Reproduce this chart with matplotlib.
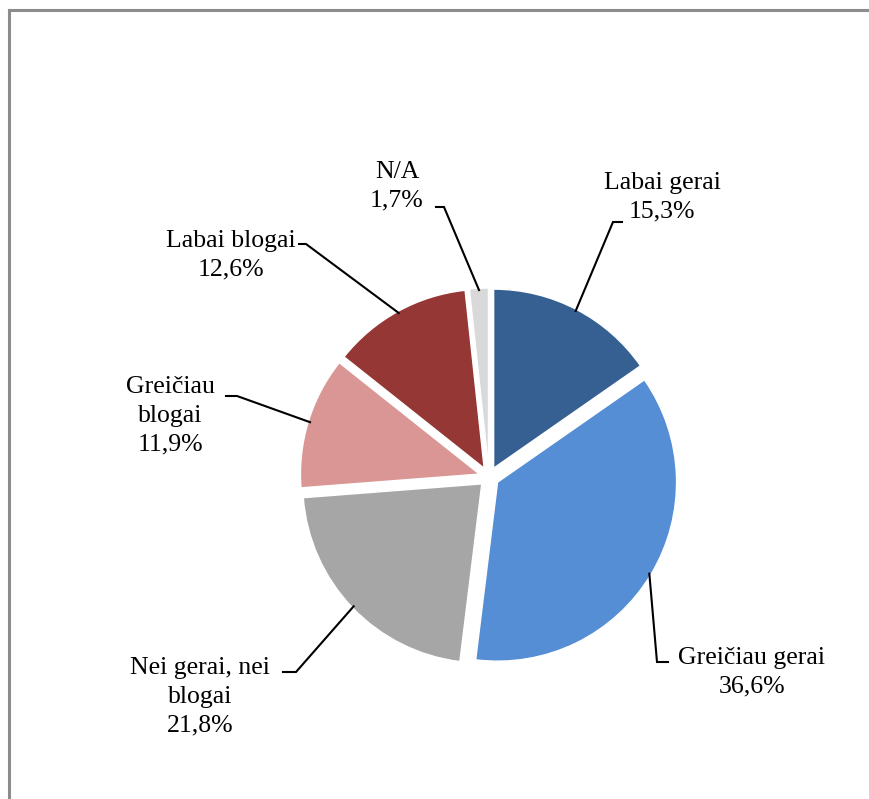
import matplotlib.pyplot as plt
import numpy as np

# duomenys
categories = ['Labai gerai', 'Greičiau gerai', 'Nei gerai, nei\nblogai',
              'Greičiau\nblogai', 'Labai blogai', 'N/A']
values = [15.3, 36.6, 21.8, 11.9, 12.6, 1.7]
pct_labels = ['15,3%', '36,6%', '21,8%', '11,9%', '12,6%', '1,7%']
colors = ['#376092', '#558ED5', '#A6A6A6', '#D99694', '#953735', '#D9D9D9']

# label layout (pixels, top-left origin): text centre, elbow, tick end
text_pos = [(662, 197), (752, 672), (200, 697), (170, 416), (231, 255), (397, 186)]
elbows = [(613, 222), (657, 662), (296, 672), (237, 396), (306, 244), (444, 207)]
tick_end = [(622, 222), (668, 662), (283, 672), (226, 396), (299, 244), (436, 207)]

W, H = 870, 799
fig = plt.figure(figsize=(W / 100, H / 100), dpi=100)
ax = fig.add_axes([0, 0, 1, 1])

R = 179
wedges, _ = ax.pie(values, colors=colors, startangle=90, counterclock=False,
                   center=(489, H - 477), radius=R, explode=[10] * len(values),
                   wedgeprops=dict(edgecolor='white', linewidth=1))
ax.set_xlim(0, W)
ax.set_ylim(0, H)
ax.set_aspect('auto')
ax.axis('off')

font = dict(family='Liberation Serif', size=18.5, color='black')
for w, cat, pct, tp, el, te in zip(wedges, categories, pct_labels, text_pos, elbows, tick_end):
    mid = np.deg2rad((w.theta1 + w.theta2) / 2)
    cx, cy = w.center
    sx, sy = cx + 0.99 * w.r * np.cos(mid), cy + 0.99 * w.r * np.sin(mid)
    ax.plot([sx, el[0], te[0]], [sy, H - el[1], H - te[1]], color='black', lw=1.5,
            solid_joinstyle='miter')
    ax.text(tp[0], H - tp[1], cat + '\n' + pct, ha='center', va='center',
            linespacing=1.4, **font)

# chart frame
fig.add_artist(plt.Line2D([9.5 / W, 9.5 / W], [0, 1 - 10 / H], color='#8c8c8c', lw=2.2))
fig.add_artist(plt.Line2D([9.5 / W, 1], [1 - 10 / H, 1 - 10 / H], color='#8c8c8c', lw=2.2))

fig.savefig('out.png', dpi=100, facecolor='white')
